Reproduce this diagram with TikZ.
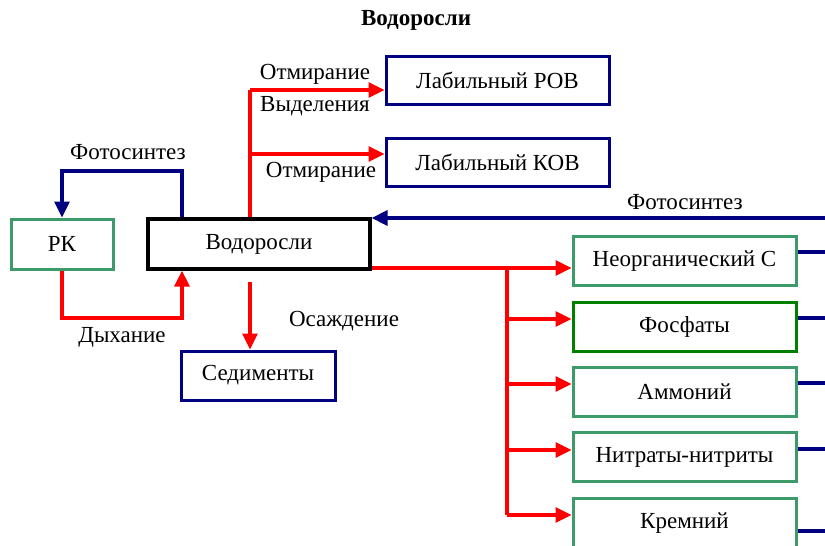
\documentclass[tikz,border=0pt]{standalone}
\usepackage{fontspec}
\setmainfont{Liberation Serif}
\usepackage{tikz}
\usetikzlibrary{calc,arrows,arrows.meta}

\definecolor{boxgreen}{RGB}{60,155,105}
\definecolor{fosgreen}{RGB}{0,128,0}
\definecolor{navy}{RGB}{0,0,128}

\begin{document}
\begin{tikzpicture}[
  x=1pt,
  y=-1pt,
  font=\fontsize{23}{26}\selectfont,
  >={Triangle[length=16pt,width=15pt]}
]

  \tikzstyle{algbox}=[draw,rectangle,line width=3.2pt,minimum height=50pt,minimum width=222pt,inner sep=1mm]
  \tikzstyle{bluebox}=[draw=navy,rectangle,line width=3pt,minimum height=48pt,minimum width=223pt,inner sep=1mm]
  \tikzstyle{greenbox}=[draw=boxgreen,rectangle,line width=3pt,minimum height=49pt,minimum width=223pt,inner sep=1mm]
  \tikzstyle{fosbox}=[draw=fosgreen,rectangle,line width=3pt,minimum height=49pt,minimum width=223pt,inner sep=1mm]

  \tikzstyle{redline}=[draw=red,line width=3.2pt]
  \tikzstyle{blueline}=[draw=navy,line width=3.2pt]
  \tikzstyle{flowlab}=[inner sep=0pt]

  \clip (0,0) rectangle (825,546);

  % nodes
  \node[font=\fontsize{23}{26}\selectfont\bfseries] (title) at (416,20) {Водоросли};

  \node[bluebox] (pob) at (497.5,80) {Лабильный РОВ};
  \node[bluebox] (kob) at (497.5,162) {Лабильный КОВ};

  \node[greenbox,minimum width=102pt,minimum height=50pt] (rk) at (62,244) {РК};
  \node[algbox] (alg) at (259,244) {Водоросли};
  \node[bluebox,minimum width=154pt,minimum height=49pt] (sed) at (258,375.5) {Седименты};

  \node[greenbox] (neo) at (684.5,261) {Неорганический С};
  \node[fosbox] (fos) at (684.5,326.5) {Фосфаты};
  \node[greenbox] (amm) at (684.5,392) {Аммоний};
  \node[greenbox] (nit) at (684.5,457) {Нитраты-нитриты};
  \node[greenbox] (kre) at (684.5,523) {Кремний};

  % labels
  \node[flowlab] (l1) at (315,74) {Отмирание};
  \node[flowlab] (l2) at (315,106) {Выделения};
  \node[flowlab] (l3) at (321,172) {Отмирание};
  \node[flowlab] (l4) at (128,152) {Фотосинтез};
  \node[flowlab] (l5) at (122,337) {Дыхание};
  \node[flowlab] (l6) at (344,321) {Осаждение};
  \node[flowlab] (l7) at (685,202) {Фотосинтез};

  % junctions
  \coordinate (b1) at (250,90);
  \coordinate (b2) at (250,154);
  \coordinate (f1) at (182,171);
  \coordinate (d1) at (182,318);
  \coordinate (s1) at (250,282);
  \coordinate (f2) at (826,218);
  \coordinate (r0) at (507,268);
  \coordinate (r1) at (507,515);

  % pointers
  \draw[redline] (alg.north -| b1) -- (b1);
  \draw[redline,->] (b1) -- (pob.west |- b1);
  \draw[redline,->] (b2) -- (kob.west |- b2);

  \draw[blueline,->] (alg.north -| f1) -- (f1) -| (rk.north);
  \draw[redline,->] (rk.south) |- (d1) -- (alg.south -| d1);
  \draw[redline,->] (s1) -- (sed.north -| s1);

  \draw[blueline,->] (f2) -- (alg.east |- f2);

  \draw[redline] (alg.east |- r0) -- (r0) -- (r1);
  \foreach \n/\y in {neo/268,fos/319,amm/384,nit/450,kre/515}
    \draw[redline,->] (r0 |- 0,\y) -- (\n.west |- 0,\y);

  \foreach \n/\y in {neo/252,fos/318,amm/383,nit/449,kre/531}
    \draw[blueline] (\n.east |- 0,\y) -- (826,\y);

\end{tikzpicture}
\end{document}
